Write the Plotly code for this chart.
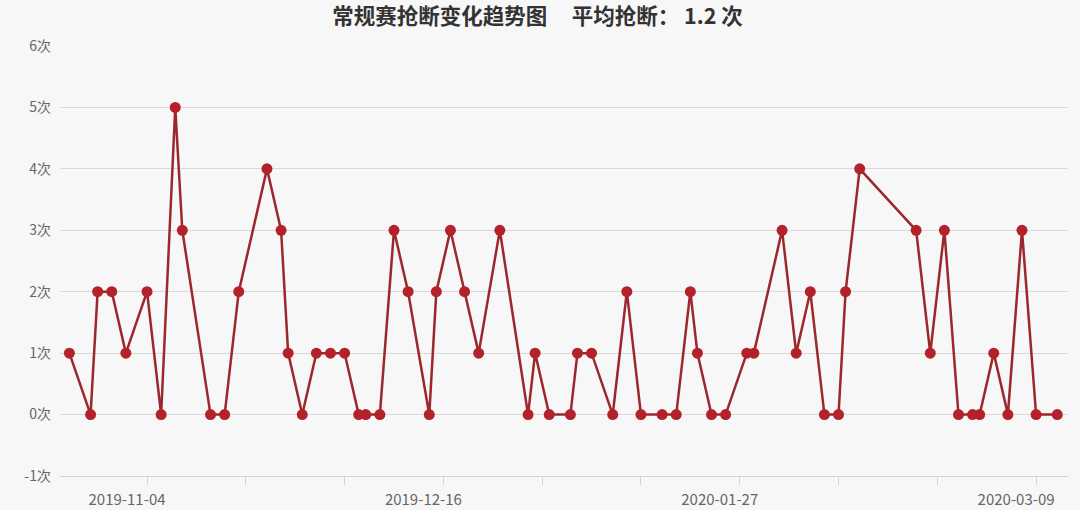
import plotly.graph_objects as go

# game dates (Beijing time) and steals per game
game_dates = [
    "2019-10-24", "2019-10-27", "2019-10-28", "2019-10-30", "2019-11-01",
    "2019-11-04", "2019-11-06", "2019-11-08", "2019-11-09", "2019-11-13",
    "2019-11-15", "2019-11-17", "2019-11-21", "2019-11-23", "2019-11-24",
    "2019-11-26", "2019-11-28", "2019-11-30", "2019-12-02", "2019-12-04",
    "2019-12-05", "2019-12-07", "2019-12-09", "2019-12-11", "2019-12-14",
    "2019-12-15", "2019-12-17", "2019-12-19", "2019-12-21", "2019-12-24",
    "2019-12-28", "2019-12-29", "2019-12-31", "2020-01-03", "2020-01-04",
    "2020-01-06", "2020-01-09", "2020-01-11", "2020-01-13", "2020-01-16",
    "2020-01-18", "2020-01-20", "2020-01-21", "2020-01-23", "2020-01-25",
    "2020-01-28", "2020-01-29", "2020-02-02", "2020-02-04", "2020-02-06",
    "2020-02-08", "2020-02-10", "2020-02-11", "2020-02-13", "2020-02-21",
    "2020-02-23", "2020-02-25", "2020-02-27", "2020-02-29", "2020-03-01",
    "2020-03-03", "2020-03-05", "2020-03-07", "2020-03-09", "2020-03-12",
]
steals = [
    1, 0, 2, 2, 1, 2, 0, 5, 3, 0,
    0, 2, 4, 3, 1, 0, 1, 1, 1, 0,
    0, 0, 3, 2, 0, 2, 3, 2, 1, 3,
    0, 1, 0, 0, 1, 1, 0, 2, 0, 0,
    0, 2, 1, 0, 0, 1, 1, 3, 1, 2,
    0, 0, 2, 4, 3, 1, 3, 0, 0, 0,
    1, 0, 3, 0, 0,
]
y_ticks = [-1, 0, 1, 2, 3, 4, 5, 6]
y_labels = ["-1次", "0次", "1次", "2次", "3次", "4次", "5次", "6次"]

avg = round(sum(steals) / len(steals), 1)
title = "常规赛抢断变化趋势图&nbsp;&nbsp;&nbsp;&nbsp;&nbsp;平均抢断：&nbsp;" + str(avg) + " 次"

font = "Noto Sans CJK SC"
DAY = 86400000

fig = go.Figure(go.Scatter(
    x=game_dates, y=steals,
    mode="lines+markers",
    line=dict(color="#9c272c", width=2.5),
    marker=dict(color="#b3222a", size=11),
))

fig.update_layout(
    width=1080, height=510,
    margin=dict(l=60, r=12, t=46, b=34),
    paper_bgcolor="#f7f7f7", plot_bgcolor="#f7f7f7",
    showlegend=False,
    title=dict(text=title, x=537.5 / 1080, xanchor="center", y=1 - 16 / 510, yanchor="middle",
               font=dict(family=font, size=21.5, color="#333333", weight="bold"),
               automargin=False),
)

fig.update_xaxes(
    type="date", automargin=False,
    range=["2019-10-22 16:00", "2020-03-13 12:30"],
    tick0="2019-11-04", dtick=42 * DAY, tickformat="%Y-%m-%d",
    ticks="outside", ticklen=8, tickcolor="#ccd6eb",
    minor=dict(tick0="2019-11-04", dtick=14 * DAY, ticks="outside", ticklen=8, tickcolor="#ccd6eb"),
    showgrid=False, showline=True, linecolor="#ccd6eb", linewidth=1,
    tickfont=dict(family=font, size=15, color="#666666"),
    ticklabelshift=-20, ticklabelstandoff=2,
)
fig.update_yaxes(
    automargin=False,
    range=[-1, 6], tickvals=y_ticks, ticktext=y_labels,
    showgrid=True, gridcolor="#d9d9d9", gridwidth=1, zeroline=False,
    tickfont=dict(family=font, size=14, color="#666666"),
    ticklabelstandoff=8,
)

# page body has a default 8px margin, drop it so the figure sits at the corner
fig.write_html("out.html", config={"displayModeBar": False},
               post_script="document.body.style.margin='0';")
